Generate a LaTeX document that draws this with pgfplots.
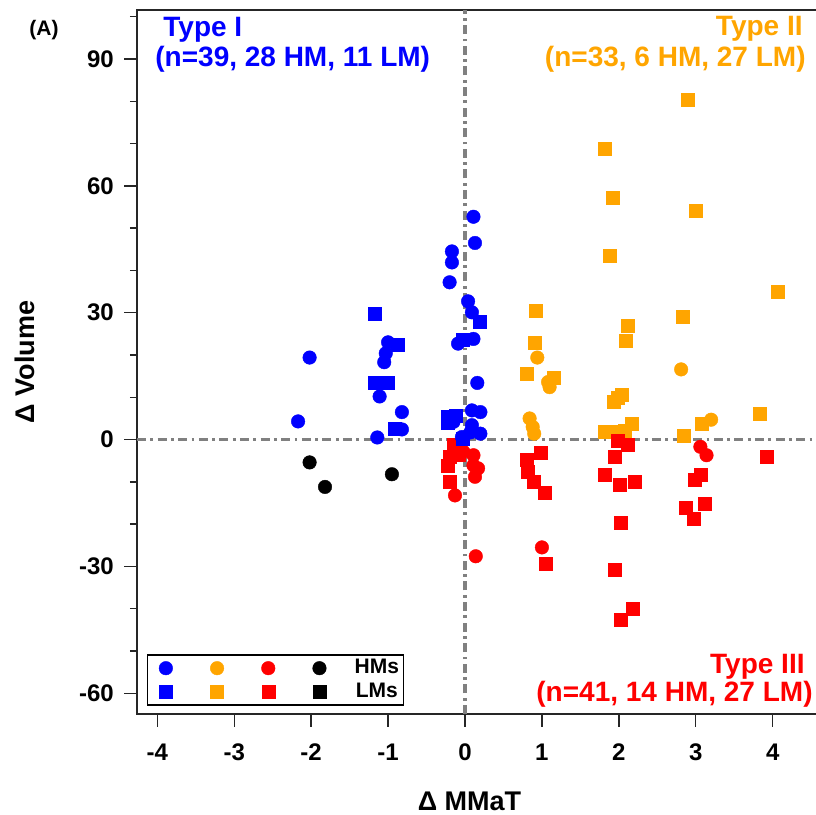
\documentclass[border=0pt]{standalone}
\usepackage{fontspec}
\setmainfont{Liberation Sans}
\usepackage{pgfplots}
\pgfplotsset{compat=1.18}

\definecolor{tyone}{RGB}{0,0,255}
\definecolor{tytwo}{RGB}{255,165,0}
\definecolor{tythree}{RGB}{255,0,0}
\definecolor{refgray}{RGB}{128,128,128}

\newcommand\fs[1]{\fontsize{#1}{#1}\selectfont\bfseries}

\pgfplotsset{
  hm/.style={only marks, mark=*, mark size=3.4pt, mark options={line width=0.2pt}},
  lm/.style={only marks, mark=square*, mark size=3.25pt, mark options={line width=0.2pt}},
  refline/.style={forget plot, refgray, line width=1.6pt, dash pattern=on 4.5pt off 2.2pt on 1.4pt off 2.2pt},
}

\begin{document}
\begin{tikzpicture}
\begin{axis}[
  at={(0pt,0pt)}, anchor=south west,
  scale only axis, width=341pt, height=352pt,
  xmin=-4.264, xmax=4.602, ymin=-64.9, ymax=101.6,
  axis line style={black!85, line width=0.8pt},
  xtick={-4,-3,-2,-1,0,1,2,3,4},
  xticklabels={-4,-3,-2,-1,0,1,2,3,4},
  ytick={-60,-30,0,30,60,90},
  yticklabels={-60,-30,0,30,60,90},
  minor ytick={-50,-40,-20,-10,10,20,40,50,70,80,100},
  tick align=outside, tick pos=left,
  major tick length=6.4pt, minor tick length=3.5pt,
  every tick/.style={black!85, line width=0.7pt},
  ticklabel style={font=\fs{12}},
  xticklabel style={yshift=-5pt},
  yticklabel style={xshift=-1.7pt},
  xlabel={Δ MMaT}, ylabel={Δ Volume},
  xlabel style={font=\fs{13.5}, at={(axis description cs:0.4875,-0.1245)}, anchor=center},
  ylabel style={font=\fs{13.5}, at={(axis description cs:-0.165,0.5)}, anchor=center},
  legend columns=4,
  legend style={at={(0.0142,0.0118)}, anchor=south west, draw=black, line width=0.8pt,
    inner xsep=2.2pt, inner ysep=0.8pt, column sep=0pt, row sep=0pt,
    nodes={inner sep=0pt, font=\fs{10.5}}},
  legend image code/.code={\path[draw=none, fill=none] (-7pt,-5.85pt) rectangle (17.6pt,5.85pt);
    \path[#1] plot coordinates {(0pt,0pt)};},
]
% legend: circles = HMs, squares = LMs
\addlegendimage{hm, tyone}\addlegendentry{}
\addlegendimage{hm, tytwo}\addlegendentry{}
\addlegendimage{hm, tythree}\addlegendentry{}
\addlegendimage{hm, black}\addlegendentry{HMs}
\addlegendimage{lm, tyone}\addlegendentry{}
\addlegendimage{lm, tytwo}\addlegendentry{}
\addlegendimage{lm, tythree}\addlegendentry{}
\addlegendimage{lm, black}\addlegendentry{LMs}

% reference lines
\addplot[refline] coordinates {(-4.264,0) (4.602,0)};
\addplot[refline] coordinates {(0,-64.9) (0,101.6)};

% Type II (orange)
\addplot[forget plot, lm, tytwo] coordinates {
  (2.89,80.5) (1.82,68.7) (1.92,57.3) (3.0,54.1) (1.88,43.4) (4.06,35.0)
  (2.83,29.1) (2.11,27.0) (2.09,23.4) (0.92,30.4) (0.9,22.8) (0.80,15.6)
  (1.15,14.6) (2.04,10.7) (1.93,8.9) (1.98,9.8) (2.17,3.8) (1.82,1.8)
  (1.95,1.8) (2.08,2.2) (2.84,1.0) (3.08,3.8) (3.83,6.1)
};
\addplot[forget plot, hm, tytwo] coordinates {
  (0.94,19.4) (1.08,13.6) (1.10,12.4) (0.84,5.0) (0.88,3.0) (0.90,1.4)
  (2.81,16.6) (3.2,4.7)
};

% Type III (red)
\addplot[forget plot, lm, tythree] coordinates {
  (-0.15,-1.3) (-0.2,-4.1) (-0.22,-6.1) (-0.2,-10.0) (-0.08,-3.5)
  (0.98,-3.2) (0.80,-4.7) (0.82,-7.6) (0.89,-10.0) (1.03,-12.6) (1.05,-29.3)
  (1.99,-0.2) (2.12,-1.3) (1.95,-4.1) (1.82,-8.4) (2.01,-10.6) (2.2,-10.0)
  (2.03,-19.7) (1.94,-30.7) (2.03,-42.5) (2.18,-40.1)
  (2.99,-9.4) (3.06,-8.4) (2.87,-16.1) (2.97,-18.7) (3.12,-15.1) (3.92,-4.1)
};
\addplot[forget plot, hm, tythree] coordinates {
  (-0.02,-2.9) (0.11,-3.7) (0.11,-6.1) (0.17,-6.8) (0.13,-8.8) (-0.13,-13.2)
  (0.14,-27.6) (1.0,-25.5) (3.06,-1.7) (3.14,-3.7)
};

% Type I (blue)
\addplot[forget plot, lm, tyone] coordinates {
  (-1.17,29.8) (-0.87,22.5) (-1.17,13.4) (-1.0,13.4) (-0.91,2.6)
  (0.19,27.8) (-0.03,23.7) (-0.22,5.3) (-0.12,5.6) (-0.03,0.3) (-0.22,4.0)
};
\addplot[forget plot, hm, tyone] coordinates {
  (-2.02,19.4) (-2.17,4.3)
  (-1.0,23.0) (-1.03,20.4) (-1.05,18.3) (-1.11,10.2) (-0.82,6.5) (-0.82,2.4) (-1.14,0.5)
  (0.11,52.7) (0.13,46.5) (-0.17,44.5) (-0.17,41.9) (-0.2,37.2) (0.04,32.7)
  (0.09,30.1) (0.11,23.8) (-0.09,22.7) (0.16,13.4)
  (0.09,6.9) (0.2,6.5) (0.09,3.4) (0.2,1.4) (-0.04,0.6) (0.07,1.7) (-0.15,4.2)
};

% other
\addplot[forget plot, hm, black] coordinates {
  (-2.02,-5.4) (-1.82,-11.2) (-0.95,-8.2)
};
\end{axis}

\node[anchor=base west, inner sep=0pt, text=tyone, font=\fs{14}] at (13pt,338.65pt) {Type I};
\node[anchor=base west, inner sep=0pt, text=tyone, font=\fs{14}] at (9pt,323.5pt) {(n=39, 28 HM, 11 LM)};
\node[anchor=base east, inner sep=0pt, text=tytwo, font=\fs{14}] at (333pt,339pt) {Type II};
\node[anchor=base east, inner sep=0pt, text=tytwo, font=\fs{14}] at (334.5pt,323.65pt) {(n=33, 6 HM, 27 LM)};
\node[anchor=base east, inner sep=0pt, text=tythree, font=\fs{14}] at (334pt,20.35pt) {Type III};
\node[anchor=base east, inner sep=0pt, text=tythree, font=\fs{14}] at (338pt,6.15pt) {(n=41, 14 HM, 27 LM)};
\node[anchor=center, inner sep=0pt, font=\fs{10.5}] at (-46.5pt,342pt) {(A)};

\pgfresetboundingbox
\path (-68.5pt,-50.5pt) rectangle (339.5pt,357pt);
\end{tikzpicture}
\end{document}
